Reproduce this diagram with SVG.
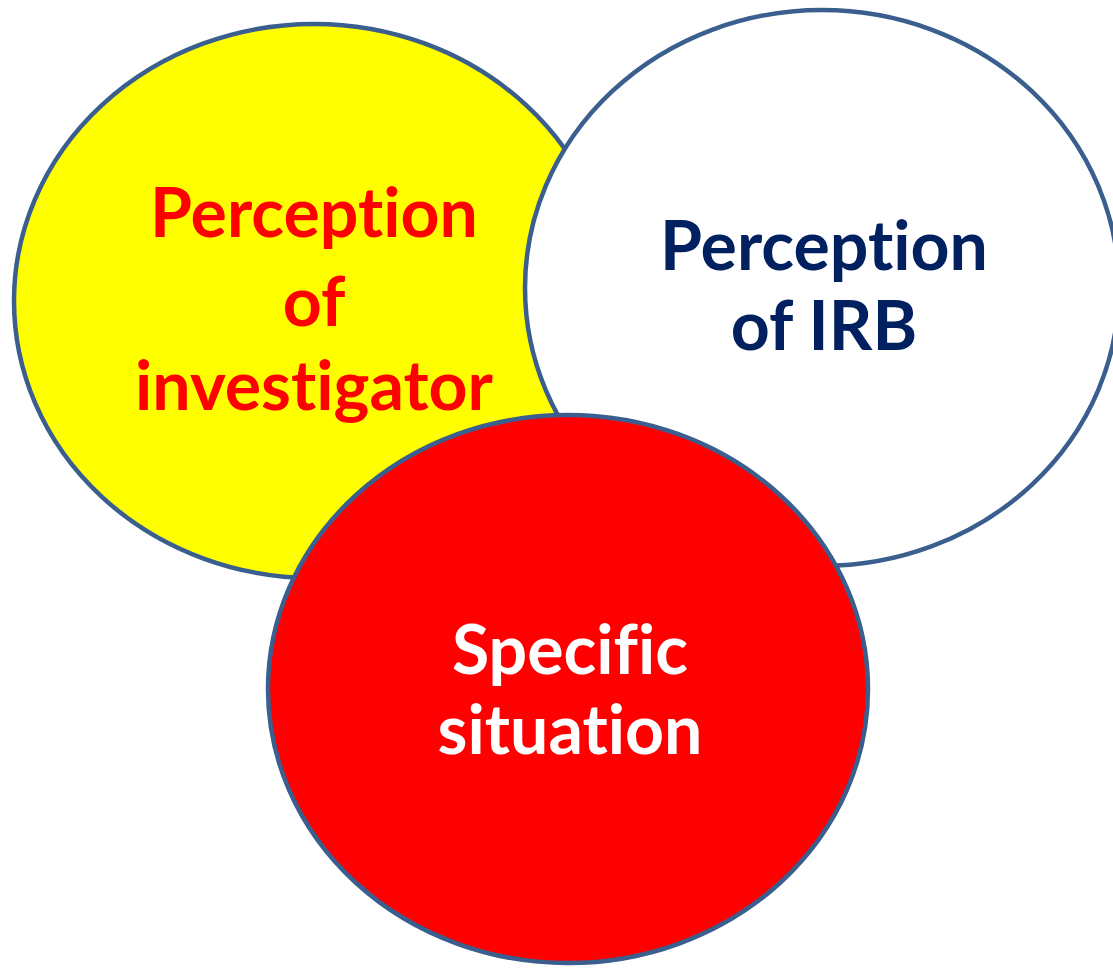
<svg xmlns="http://www.w3.org/2000/svg" width="1113" height="969" viewBox="0 0 1113 969">
<style>
.c{stroke:#3A5F8E;stroke-width:4.5}
.t{font-family:Lato,"Liberation Sans",sans-serif;font-weight:bold;font-size:68px;text-anchor:middle;font-variant-ligatures:none;font-feature-settings:"liga" 0}
</style>
<rect width="1113" height="969" fill="#fff"/>
<g id="investigator">
<ellipse class="c" cx="314" cy="301" rx="300" ry="277" fill="#FFFF00"/>
<text class="t" fill="#FF0000"><tspan x="314" y="237">Perception</tspan><tspan x="314" y="326">of</tspan><tspan x="314" y="410">investigator</tspan></text>
</g>
<g id="irb">
<ellipse class="c" cx="822" cy="288" rx="297" ry="278" fill="#FFFFFF"/>
<text class="t" fill="#002060"><tspan x="824" y="270">Perception</tspan><tspan x="824" y="350">of IRB</tspan></text>
</g>
<g id="situation">
<ellipse class="c" cx="568" cy="689" rx="300" ry="274" fill="#FF0000"/>
<text class="t" fill="#FFFFFF"><tspan x="570" y="674">Specific</tspan><tspan x="570" y="754">situation</tspan></text>
</g>
<g id="connectors"/>
</svg>
